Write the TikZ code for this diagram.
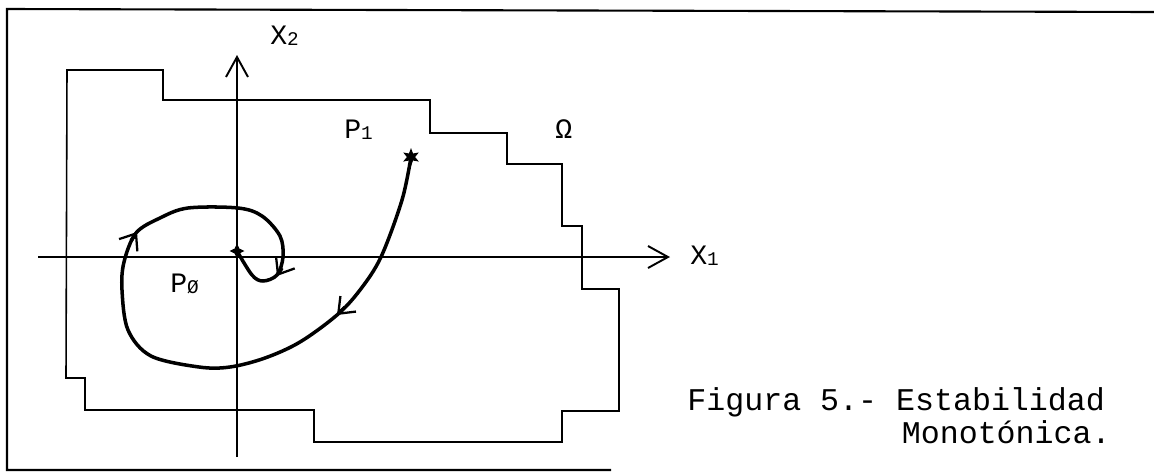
\documentclass[tikz,border=0pt]{standalone}
\usepackage{fontspec}
\setmainfont{Liberation Mono}
\usepackage{tikz}
\usetikzlibrary{arrows.meta, shapes.geometric}
\newcommand{\lowidx}[1]{\raisebox{-1pt}{\fontsize{11}{11}\selectfont #1}}

\begin{document}
\begin{tikzpicture}[
  x=0.2mm, y=-0.2mm,
  every node/.style={font=\fontsize{16}{16}\selectfont, inner sep=0pt},
  capt/.style={font=\fontsize{18}{18}\selectfont},
  frame/.style={line width=1.2pt},
  region/.style={line width=0.9pt},
  axis/.style={line width=1.1pt, -{Straight Barb[length=4mm, width=4.4mm, line width=1.1pt]}},
  traj/.style={line width=2pt},
  dirtip/.style={line width=2pt, -{Straight Barb[length=2.8mm, width=4.4mm, line width=1.3pt]}},
  cross/.style={star, star points=6, star point ratio=2.2, fill, minimum size=3.6mm}
]
\useasboundingbox (0,0) rectangle (1154,472);

% outer frame (left, top, bottom only)
\draw[frame] (1154,12) -- (7,9) -- (7,470) -- (611,470);

% region Omega
\draw[region] (67,70) -- (163,70) -- (163,100) -- (430,100) -- (430,133)
  -- (507,133) -- (507,164) -- (562,164) -- (562,226) -- (582,226)
  -- (582,289) -- (619,289) -- (619,411) -- (562,411) -- (562,442)
  -- (314,442) -- (314,410) -- (85,410) -- (85,378) -- (66,378) -- cycle;

% axes
\coordinate (xl) at (38,257);
\coordinate (xr) at (670,257);
\coordinate (yb) at (237,457);
\coordinate (yt) at (237,55);
\draw[axis] (xl) -- (xr);
\draw[axis] (yb) -- (yt);

% labels
\node[anchor=base west] (x1) at (690,264) {X\lowidx{1}};
\node[anchor=base west] (x2) at (270,44) {X\lowidx{2}};
\node[anchor=base west] (om) at (555,138) {Ω};
\node[anchor=base west] (lp1) at (344,138) {P\lowidx{1}};
\node[anchor=base west] (lp0) at (170,292) {P\lowidx{Ø}};

% start and end points
\node[cross] (p1) at (411,157) {};
\node[cross, star points=4, minimum size=3mm] (p0) at (237,251) {};

% trajectory from P1 to P0
\draw[traj] plot[smooth, tension=0.55] coordinates {(p1) (402,200) (381,257)
  (360,290) (337,315) (300,342) (265,358) (230,367) (199,367) (151,356)
  (128,330) (122,290) (124,262) (136,233) (160,218) (188,208) (238,208)
  (262,216) (280,236) (283,257) (277,275) (263,281) (252,275) (p0)};

% direction marks on the trajectory
\coordinate (d1) at (337,315);
\coordinate (d2) at (137,232);
\coordinate (d3) at (277,276);
\draw[dirtip] (345,307) -- (d1);
\draw[dirtip] (131,241) -- (d2);
\draw[dirtip] (282,268) -- (d3);

% caption
\node[capt, anchor=base west] (cap1) at (687,410) {Figura 5.- Estabilidad};
\node[capt, anchor=base east] (cap2) at (1111,443) {Monotónica.};
\end{tikzpicture}
\end{document}
